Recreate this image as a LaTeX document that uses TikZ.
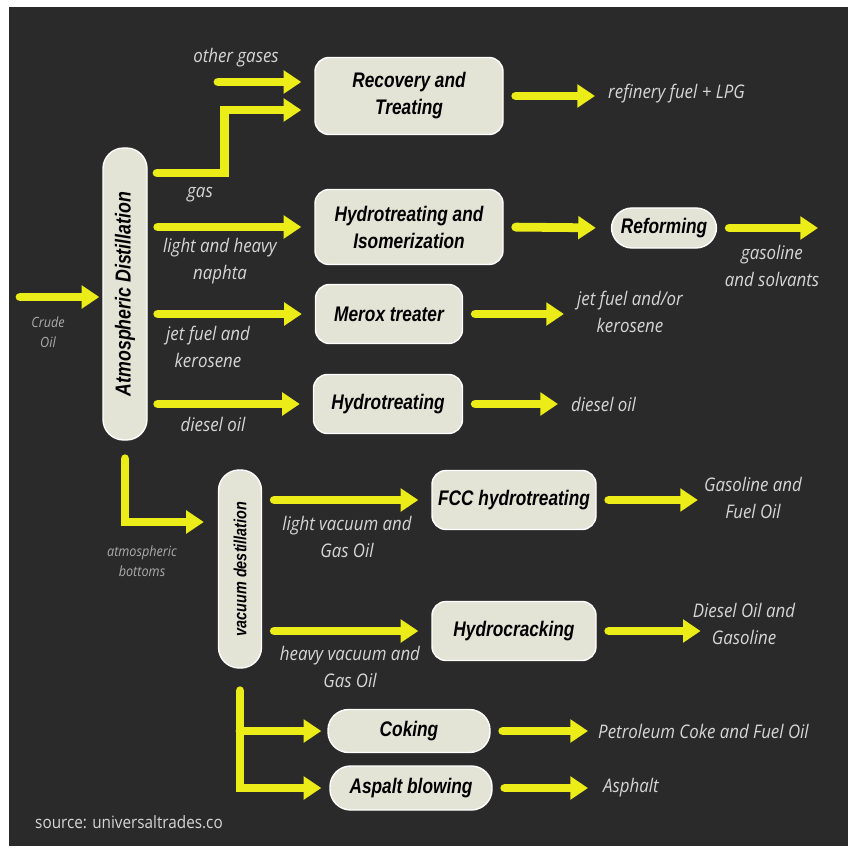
\documentclass[tikz,border=0pt]{standalone}
\usepackage{fontspec}
\usepackage{tikz}
\usetikzlibrary{arrows.meta, positioning, calc}

\newfontfamily\boxfont[FakeStretch=0.82]{Liberation Sans}
\newfontfamily\labelfont[FakeStretch=0.9]{Open Sans}

\definecolor{bgdark}{RGB}{42,42,42}
\definecolor{flowyellow}{RGB}{236,236,24}
\definecolor{boxfill}{RGB}{228,228,214}
\definecolor{labelgrey}{RGB}{214,214,214}
\definecolor{dimgrey}{RGB}{172,172,172}

\tikzset{
  unit/.style={draw=white, line width=1.2pt, fill=boxfill, rounded corners=0.42cm, inner sep=0pt,
    align=center, text=black, font=\boxfont\bfseries\itshape\fontsize{18}{23}\selectfont},
  pill/.style={unit, rounded corners=0.62cm},
  flow/.style={draw=flowyellow, line width=7.5pt, line cap=round,
    -{Triangle[length=15pt, width=19pt]}, shorten <=0.36cm, shorten >=0.39cm},
  stream/.style={font=\labelfont\itshape\fontsize{16}{23}\selectfont, text=labelgrey, align=center, inner sep=0pt},
  minor/.style={stream, font=\labelfont\itshape\fontsize{12}{17}\selectfont, text=dimgrey},
}

\begin{document}
\begin{tikzpicture}[x=0.03cm, y=-0.03cm]
    % Background
    \useasboundingbox (0,0) rectangle (849,847);
    \fill[white] (0,0) rectangle (849,847);
    \fill[bgdark] (9,7) rectangle (848,846);

    % Columns
    \node[pill, rotate=90, minimum width=8.76cm, minimum height=1.32cm,
      font=\boxfont\bfseries\itshape\fontsize{18.5}{24}\selectfont] (atm) at (125,294) {Atmospheric Distillation};
    \node[pill, rotate=90, minimum width=5.94cm, minimum height=1.29cm,
      font=\boxfont\bfseries\itshape\fontsize{15}{20}\selectfont] (vac) at (240,569) {vacuum destillation};

    % Units
    \node[unit, minimum width=5.64cm, minimum height=2.31cm] (rec) at (409,96) {Recovery and\\Treating};
    \node[unit, minimum width=5.64cm, minimum height=2.25cm] (hyi) at (409,227) {Hydrotreating and\\Isomerization};
    \node[pill, minimum width=3.15cm, minimum height=1.2cm] (ref) at (664,228) {Reforming};
    \node[unit, minimum width=4.41cm, minimum height=1.77cm] (mer) at (389,314) {Merox treater};
    \node[unit, minimum width=4.47cm, minimum height=1.77cm] (hdt) at (388,404) {Hydrotreating};
    \node[unit, minimum width=4.92cm, minimum height=1.77cm] (fcc) at (514,500) {FCC hydrotreating};
    \node[unit, minimum width=4.92cm, minimum height=1.77cm] (hcr) at (514,631) {Hydrocracking};
    \node[pill, minimum width=4.86cm, minimum height=1.29cm] (cok) at (409,731) {Coking};
    \node[pill, minimum width=4.86cm, minimum height=1.32cm] (asp) at (411,788) {Aspalt blowing};

    % Products
    \node[stream, anchor=west] (lpg) at (608,94) {refinery fuel + LPG};
    \node[stream] (gsv) at (772,266) {gasoline\\and solvants};
    \node[stream] (jet) at (630,312) {jet fuel and/or\\kerosene};
    \node[stream, anchor=west] (dsl) at (571,404) {diesel oil};
    \node[stream] (gfo) at (753,498) {Gasoline and\\Fuel Oil};
    \node[stream] (dog) at (744,624) {Diesel Oil and\\Gasoline};
    \node[stream, anchor=west] (pcf) at (598,731) {Petroleum Coke and Fuel Oil};
    \node[stream, anchor=west] (aph) at (603,788) {Asphalt};

    % Stream labels
    \node[minor] (crude) at (48,332) {Crude\\Oil};
    \node[stream] (ogl) at (236,58) {other gases};
    \node[stream] (gasl) at (200,195) {gas};
    \node[stream] (naph) at (220,261) {light and heavy\\naphta};
    \node[stream] (jetl) at (208,347) {jet fuel and\\kerosene};
    \node[stream] (dsll) at (213,424) {diesel oil};
    \node[minor] (botl) at (142,561) {atmospheric\\bottoms};
    \node[stream] (lvgo) at (347,537) {light vacuum and\\Gas Oil};
    \node[stream] (hvgo) at (350,667) {heavy vacuum and\\Gas Oil};
    \node[stream, anchor=west, font=\labelfont\fontsize{14.5}{18}\selectfont] (src) at (35,822) {source: universaltrades.co};

    % Free ends
    \coordinate (crudein) at (20,297);
    \coordinate (og) at (218,82);
    \coordinate (gasout) at (135,173);
    \coordinate (gasin) at ([yshift=-0.42cm]rec.west);
    \coordinate (gasend) at (818,228);

    % Atmospheric side
    \draw[flow, shorten <=0pt, shorten >=0.09cm] (crudein) -- (crudein -| atm.north);
    \draw[flow, shorten <=0pt] (og) -- (og -| rec.west);
    \draw[flow, shorten <=0.66cm] (gasout) -| ($(gasout)!0.5!(gasin)$) |- (gasin);
    \draw[flow, shorten <=0.3cm] (atm.south |- hyi) -- (hyi.west);
    \draw[flow, shorten <=0.3cm] (atm.south |- mer) -- (mer.west);
    \draw[flow, shorten <=0.3cm] (atm.south |- hdt) -- (hdt.west);

    % Products of units
    \draw[flow] (rec.east) -- (rec.east -| lpg.west);
    \draw[flow, shorten >=0.45cm] (hyi.east) -- (ref.west);
    \draw[flow, shorten >=0pt] (ref.east) -- (gasend);
    \draw[flow] (mer.east) -- (mer.east -| jet.west);
    \draw[flow] (hdt.east) -- (hdt.east -| dsl.west);

    % Vacuum side
    \draw[flow, shorten <=0.54cm, shorten >=0.42cm] (atm.west) |- ([yshift=1.41cm]vac.north);
    \draw[flow] (vac.south |- fcc) -- (fcc.west);
    \draw[flow] (vac.south |- hcr) -- (hcr.west);
    \draw[flow, shorten <=0.66cm, shorten >=0.24cm] (vac.west) |- (asp.west);
    \draw[flow, shorten <=0pt, shorten >=0.18cm] (vac.west |- cok) -- (cok.west);
    \draw[flow, shorten >=0.18cm] (fcc.east) -- (fcc.east -| gfo.west);
    \draw[flow, shorten >=-0.24cm] (hcr.east) -- (hcr.east -| dog.west);
    \draw[flow, shorten >=0.3cm] (cok.east) -- (cok.east -| pcf.west);
    \draw[flow, shorten >=0.45cm] (asp.east) -- (asp.east -| aph.west);
\end{tikzpicture}
\end{document}
